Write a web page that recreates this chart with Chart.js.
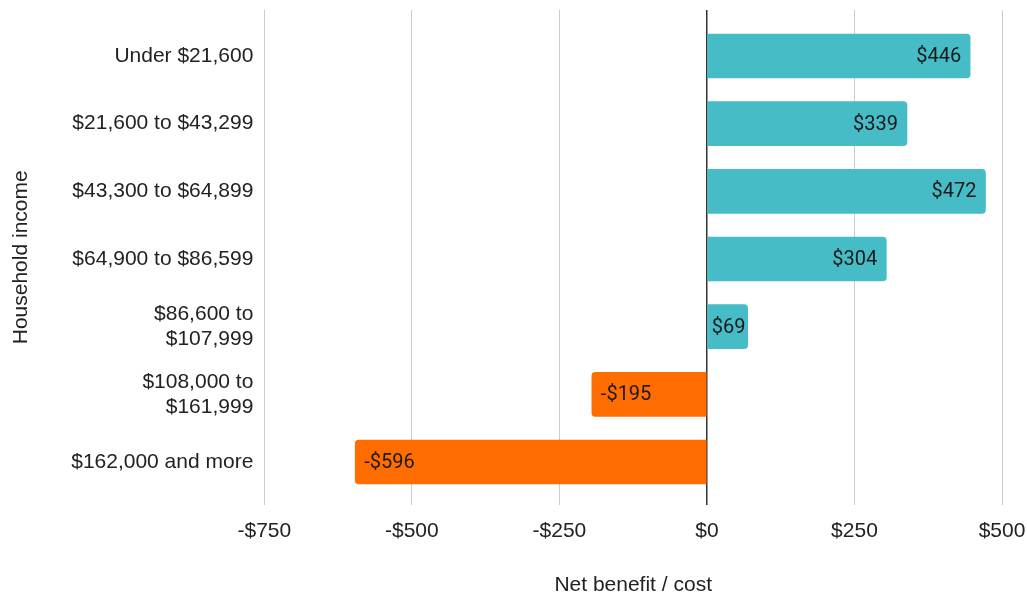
<!DOCTYPE html>
<html lang="en">
<head>
    <meta charset="UTF-8">
    <title>Net benefit / cost by household income</title>
    <script src="https://cdn.jsdelivr.net/npm/chart.js"></script>
    <style>
        body {
            margin: 0;
            padding: 0;
            background: #fff;
        }
        .chart-box {
            width: 1027px;
            height: 594px;
        }
    </style>
</head>
<body>

<div class="chart-box">
    <canvas id="incomeChart"></canvas>
</div>

<script>
    // income brackets, top to bottom
    const incomeGroups = [
        'Under $21,600',
        '$21,600 to $43,299',
        '$43,300 to $64,899',
        '$64,900 to $86,599',
        ['$86,600 to', '$107,999'],
        ['$108,000 to', '$161,999'],
        '$162,000 and more'
    ];
    const netBenefit = [446, 339, 472, 304, 69, -195, -596];
    const xTicks = [-750, -500, -250, 0, 250, 500];

    const TEAL = '#46bdc6';
    const ORANGE = '#ff6d01';

    const fmt = v => (v < 0 ? '-$' : '$') + Math.abs(v);

    // value labels drawn inside the bar ends
    const barLabels = {
        id: 'barLabels',
        afterDatasetsDraw(chart) {
            const ctx = chart.ctx;
            const meta = chart.getDatasetMeta(0);
            ctx.save();
            ctx.font = '20px Roboto';
            ctx.fillStyle = '#1a1a1a';
            ctx.textBaseline = 'middle';
            ctx.textAlign = 'left';
            meta.data.forEach((bar, i) => {
                const v = netBenefit[i];
                const text = fmt(v);
                const w = ctx.measureText(text).width;
                if (v >= 0) {
                    const x = Math.max(bar.base + 4, bar.x - 9 - w);
                    ctx.fillText(text, x, bar.y + 1);
                } else {
                    ctx.fillText(text, bar.x + 9, bar.y + 1);
                }
            });
            ctx.restore();
        }
    };

    const ctx = document.getElementById('incomeChart').getContext('2d');
    new Chart(ctx, {
        type: 'bar',
        data: {
            datasets: [{
                data: netBenefit.map((v, i) => ({ x: v, y: i })),
                backgroundColor: netBenefit.map(v => v < 0 ? ORANGE : TEAL),
                borderRadius: 4,
                borderSkipped: 'start',
                barThickness: 44
            }]
        },
        options: {
            indexAxis: 'y',
            responsive: true,
            maintainAspectRatio: false,
            animation: false,
            layout: {
                padding: { left: 8, right: 25, top: 10, bottom: 0 }
            },
            plugins: {
                legend: { display: false },
                tooltip: { enabled: false }
            },
            scales: {
                x: {
                    type: 'linear',
                    min: -750,
                    max: 500,
                    afterBuildTicks: scale => {
                        scale.ticks = xTicks.map(v => ({ value: v }));
                    },
                    afterFit: scale => {
                        scale.paddingLeft = 0;
                        scale.paddingRight = 0;
                    },
                    grid: {
                        color: c => c.tick && c.tick.value === 0 ? '#333' : '#cccccc',
                        lineWidth: c => c.tick && c.tick.value === 0 ? 1.5 : 1,
                        drawTicks: false
                    },
                    border: { display: false },
                    ticks: {
                        padding: 14,
                        color: '#222',
                        font: { family: 'Liberation Sans', size: 21 },
                        callback: v => fmt(v)
                    },
                    title: {
                        display: true,
                        text: 'Net benefit / cost',
                        color: '#222',
                        font: { family: 'Liberation Sans', size: 21 },
                        padding: { top: 15, bottom: -4 }
                    }
                },
                y: {
                    type: 'linear',
                    reverse: true,
                    offset: false,
                    min: -0.68,
                    max: 6.63,
                    afterBuildTicks: scale => {
                        scale.ticks = incomeGroups.map((_, i) => ({ value: i }));
                    },
                    afterFit: scale => {
                        scale.paddingTop = 0;
                        scale.paddingBottom = 0;
                    },
                    grid: { display: false, drawTicks: false },
                    border: { display: false },
                    ticks: {
                        autoSkip: false,
                        padding: 11,
                        color: '#222',
                        font: { family: 'Liberation Sans', size: 21 },
                        callback: v => incomeGroups[v]
                    },
                    title: {
                        display: true,
                        text: 'Household income',
                        color: '#222',
                        font: { family: 'Liberation Sans', size: 21 },
                        padding: { top: 1, bottom: 26 }
                    }
                }
            }
        },
        plugins: [barLabels]
    });
</script>

</body>
</html>
